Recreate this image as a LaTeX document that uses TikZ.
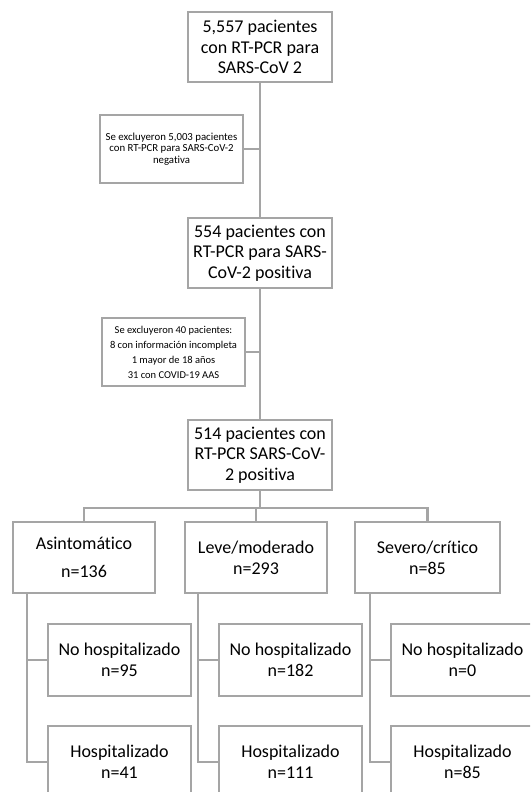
\documentclass[tikz,border=0pt]{standalone}
\usepackage{fontspec}
\setmainfont{Carlito}[Ligatures=NoCommon]
\definecolor{bx}{HTML}{A5A5A5}
\begin{document}
\begin{tikzpicture}[x=1pt,y=-1pt,
  box/.style={draw=bx, line width=2.4pt, fill=white, inner sep=0pt, align=center,
    minimum width=144pt, minimum height=70pt, font=\fontsize{18}{20.7}\selectfont},
  smallbox/.style={box, minimum width=143pt, minimum height=68pt},
  ln/.style={draw=bx, line width=2.4pt}]
\useasboundingbox (0,0) rectangle (530,792);
\clip (0,0) rectangle (530,792);
% main column
\node[box] (b1) at (260,47) {5,557 pacientes\\con RT-PCR para\\SARS-CoV 2};
\node[smallbox, font=\fontsize{10.8}{11.7}\selectfont] (e1) at (171.5,149) {Se excluyeron 5,003 pacientes\\con RT-PCR para SARS-CoV-2\\negativa};
\node[box] (b2) at (260,253) {554 pacientes con\\RT-PCR para SARS-\\CoV-2 positiva};
\node[smallbox, font=\fontsize{10.5}{15}\selectfont] (e2) at (173.5,352) {Se excluyeron 40 pacientes:\\8 con información incompleta\\1 mayor de 18 años\\31 con COVID-19 AAS};
\node[box] (b3) at (260,455) {514 pacientes con\\RT-PCR SARS-CoV-\\2 positiva};
% severity
\node[box, minimum width=142pt, minimum height=71pt] (A) at (84,557.5) {Asintomático\\[8pt]n=136};
\node[box, minimum width=142pt, minimum height=71pt] (L) at (256,557.5) {Leve/moderado\\n=293};
\node[box, minimum width=145pt, minimum height=71pt] (S) at (427.5,557.5) {Severo/crítico\\n=85};
% hospitalization
\node[box, minimum width=143pt, minimum height=72pt] (AN) at (119.5,660) {No hospitalizado\\n=95};
\node[box, minimum width=143pt, minimum height=72pt] (AH) at (119.5,762) {Hospitalizado\\n=41};
\node[box, minimum width=143pt, minimum height=72pt] (LN) at (290.5,660) {No hospitalizado\\n=182};
\node[box, minimum width=143pt, minimum height=72pt] (LH) at (290.5,762) {Hospitalizado\\n=111};
\node[box, minimum width=143pt, minimum height=72pt] (SN) at (462.5,660) {No hospitalizado\\n=0};
\node[box, minimum width=143pt, minimum height=72pt] (SH) at (462.5,762) {Hospitalizado\\n=85};
% connectors
\draw[ln] (b1.south) -- (b2.north);
\draw[ln] (e1.east) -- (e1.east -| b1.south);
\draw[ln] (b2.south) -- (b3.north);
\draw[ln] (e2.east) -- (e2.east -| b2.south);
\coordinate (bus) at (260,508);
\draw[ln] (b3.south) -- (b3.south |- bus);
\draw[ln] (A.north) |- (bus) -| (S.north);
\draw[ln] (L.north) -- (L.north |- bus);
\coordinate (av) at ([xshift=15pt]A.south west);
\coordinate (lv) at ([xshift=14pt]L.south west);
\coordinate (sv) at ([xshift=16pt]S.south west);
\draw[ln] (av) |- (AH.west);
\draw[ln] (av |- AN.west) -- (AN.west);
\draw[ln] (lv) |- (LH.west);
\draw[ln] (lv |- LN.west) -- (LN.west);
\draw[ln] (sv) |- (SH.west);
\draw[ln] (sv |- SN.west) -- (SN.west);
\end{tikzpicture}
\end{document}
